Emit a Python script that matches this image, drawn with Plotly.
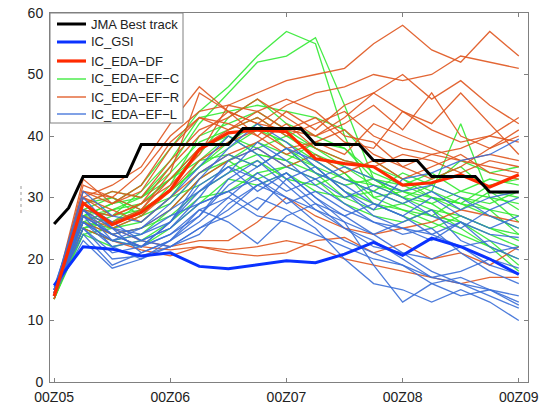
import plotly.graph_objects as go

# ---------------- data ----------------
hours = [0, 6, 12, 18, 24, 30, 36, 42, 48, 54, 60, 66, 72, 78, 84, 90, 96]

jma_hours = [0, 3, 6, 9, 12, 15, 18, 21, 24, 27, 30, 33, 36, 39, 42, 45, 48, 51,
             54, 57, 60, 63, 66, 69, 72, 75, 78, 81, 84, 87, 90, 93, 96]
jma_best = [25.7, 28.3, 33.4, 33.4, 33.4, 33.4, 38.6, 38.6, 38.6, 38.6, 38.6, 38.6, 38.6,
            41.2, 41.2, 41.2, 41.2, 41.2, 38.6, 38.6, 38.6, 38.6, 36.0, 36.0, 36.0, 36.0,
            33.4, 33.4, 33.4, 33.4, 30.9, 30.9, 30.9]

ic_gsi = [15.7, 22.0, 21.6, 20.5, 21.0, 18.8, 18.4, 19.0, 19.7, 19.4, 20.8, 22.7, 20.6, 23.4, 22.0, 20.0, 17.5]
ic_eda_df = [14.0, 29.1, 25.6, 27.6, 31.2, 37.8, 40.5, 41.0, 40.7, 36.3, 35.5, 35.0, 32.0, 32.4, 33.7, 31.7, 33.7]

ef_c = [
    [14.0, 27, 29, 32, 38, 44, 48, 53, 57, 55, 40, 30, 28, 27, 26, 24, 22],
    [14.0, 26, 28, 30, 35, 42, 47, 52, 53, 56, 45, 33, 30, 28, 27, 25, 23],
    [13.5, 25, 27, 31, 36, 43, 44, 45, 44, 43, 41, 36, 33, 30, 29, 28, 27],
    [14.0, 28, 30, 27, 32, 40, 42, 44, 41, 38, 35, 33, 32, 34, 31, 30, 29],
    [13.5, 24, 25, 26, 30, 36, 40, 38, 40, 37, 34, 30, 31, 33, 35, 31, 28],
    [14.5, 29, 30, 28, 31, 35, 38, 41, 39, 36, 33, 32, 30, 29, 31, 33, 32],
    [14.0, 25, 23, 24, 28, 33, 36, 39, 37, 35, 31, 29, 28, 26, 24, 22, 20],
    [13.5, 27, 26, 29, 33, 36, 37, 35, 38, 34, 30, 31, 34, 32, 36, 34, 35],
    [14.0, 26, 24, 25, 27, 31, 34, 36, 33, 32, 34, 29, 27, 25, 27, 25, 24],
    [14.0, 28, 27, 28, 30, 32, 35, 37, 36, 39, 38, 33, 30, 32, 30, 29, 31],
    [13.5, 25, 23, 22, 25, 29, 33, 32, 34, 31, 30, 28, 29, 31, 42, 30, 26],
    [14.0, 24, 22, 23, 26, 30, 31, 34, 35, 33, 29, 27, 26, 28, 25, 22, 18],
    [14.0, 27, 29, 30, 34, 39, 41, 43, 40, 38, 36, 35, 33, 31, 29, 27, 25],
    [13.5, 26, 25, 27, 29, 34, 36, 33, 35, 37, 35, 32, 31, 30, 28, 31, 30],
    [14.0, 29, 31, 30, 33, 37, 43, 46, 42, 40, 38, 34, 32, 30, 29, 32, 33],
    [14.0, 27, 28, 29, 33, 38, 40, 37, 36, 34, 32, 33, 31, 29, 26, 23, 19],
    [13.5, 25, 26, 28, 31, 35, 39, 42, 38, 35, 33, 31, 29, 27, 30, 28, 24],
]

ef_r = [
    [14.0, 31, 30, 34, 40, 44, 45, 47, 49, 50, 51, 55, 58, 54, 52, 57, 53],
    [14.5, 30, 32, 35, 42, 48, 44, 42, 45, 47, 48, 50, 49, 50, 53, 52, 51],
    [14.0, 33, 29, 31, 38, 43, 42, 40, 44, 41, 45, 47, 50, 46, 49, 45, 42],
    [13.5, 29, 31, 30, 36, 41, 43, 46, 43, 40, 42, 45, 41, 47, 40, 38, 41],
    [14.0, 28, 27, 29, 35, 40, 44, 42, 41, 43, 39, 38, 44, 42, 47, 42, 37],
    [14.0, 32, 30, 28, 33, 38, 41, 43, 40, 42, 44, 40, 38, 37, 38, 40, 39],
    [14.5, 27, 25, 27, 31, 36, 39, 41, 38, 39, 37, 42, 40, 38, 36, 37, 36],
    [13.5, 30, 28, 26, 30, 34, 37, 39, 42, 38, 36, 35, 37, 36, 34, 36, 35],
    [14.0, 29, 26, 28, 34, 47, 44, 40, 37, 39, 41, 37, 35, 33, 35, 38, 40],
    [14.0, 26, 24, 25, 28, 33, 36, 38, 35, 37, 34, 36, 33, 35, 37, 34, 33],
    [14.0, 28, 25, 23, 22, 23, 23, 26, 30, 27, 25, 24, 25, 26, 28, 27, 26],
    [13.5, 27, 24, 22, 21.5, 22, 21.5, 22, 23, 22, 20, 19, 18, 17, 16, 17, 17],
    [14.0, 25, 23, 21.5, 20.5, 22, 21, 20.5, 21, 23, 23.5, 21, 22.5, 20, 21, 19, 22],
    [14.5, 31, 29, 32, 39, 43, 41, 44, 46, 44, 40, 39, 35, 37, 36, 35, 34],
    [14.0, 30, 27, 29, 32, 37, 45, 44, 41, 40, 43, 47, 44, 41, 39, 40, 43],
]

ef_l = [
    [15.0, 28, 24, 22, 26, 33, 38, 42, 39, 35, 31, 28, 33, 34, 36, 37, 39.5],
    [14.5, 27, 22, 23, 25, 30, 36, 38, 35, 33, 30, 32, 30, 27, 25, 28, 30],
    [15.0, 30, 25, 21, 23, 27, 32, 35, 38, 34, 32, 29, 27, 30, 27, 25, 27],
    [14.0, 26, 23, 24, 27, 29, 31, 28, 33, 35, 31, 27, 25, 23, 26, 24, 23.5],
    [15.5, 29, 26, 23, 22, 25, 28, 32, 30, 28, 26, 24, 26, 28, 23, 21, 22],
    [14.5, 25, 21, 22, 24, 28, 26, 22.5, 27, 29, 27, 24, 21, 20, 22, 23, 21.5],
    [15.0, 24, 19, 21, 23, 26, 30, 27, 26, 24, 22, 20, 19, 17, 18, 20, 18.5],
    [14.0, 27, 24, 22, 24, 27, 33, 36, 32, 28, 25, 22, 21, 18, 16, 15, 14],
    [15.0, 28, 23, 25, 28, 31, 35, 33, 30, 26, 23, 21, 19, 16, 17, 15, 13],
    [14.5, 26, 22, 20, 22, 24, 29, 32, 34, 30, 26, 19, 13, 16, 14, 15, 12.5],
    [15.0, 31, 27, 26, 30, 35, 40, 37, 33, 29, 25, 23, 20, 17, 16, 14, 12],
    [14.0, 25, 20, 20.5, 22, 25, 27, 30, 28, 25, 20, 16, 15, 13, 15, 13, 10],
    [15.0, 29, 25, 24, 26, 31, 34, 39, 36, 32, 29, 26, 25, 24, 22, 19, 17.5],
    [14.5, 23, 18.5, 20, 23, 28, 30, 34, 31, 33, 35, 33, 31, 32, 30, 27, 25],
    [15.0, 27, 24, 25, 29, 34, 37, 35, 38, 36, 33, 31, 29, 31, 28, 30, 31],
    [14.5, 28, 25, 23, 25, 29, 31, 33, 29, 31, 28, 26, 24, 25, 21, 18, 16],
    [15.0, 26, 23, 22, 26, 32, 35, 31, 34, 30, 27, 29, 27, 24, 26, 22, 20],
]

tick_hours = [0, 24, 48, 72, 96]
tick_labels = ["00Z05", "00Z06", "00Z07", "00Z08", "00Z09"]
y_ticks = [0, 10, 20, 30, 40, 50, 60]

legend_names = ["JMA Best track", "IC_GSI", "IC_EDA\u2212DF",
                "IC_EDA\u2212EF\u2212C", "IC_EDA\u2212EF\u2212R", "IC_EDA\u2212EF\u2212L"]

# ---------------- styles ----------------
C_GREEN = "#33ea33"
C_RED = "#e0561f"
C_BLUE = "#3b6fd8"
C_GSI = "#0a32ff"
C_DF = "#ff2a00"
FONT = "Liberation Sans, Arial, sans-serif"

legend_colors = ["black", C_GSI, C_DF, C_GREEN, C_RED, C_BLUE]
legend_widths = [3, 3, 3.2, 1.3, 1.3, 1.3]

W, H = 545, 405
ML, MR, MT, MB = 50, 17, 13, 23
PW, PH = W - ML - MR, H - MT - MB

def px_x(px):
    return (px - ML) / PW

def px_y(py):
    return (H - MB - py) / PH

fig = go.Figure()

def add_group(members, color):
    for ys in members:
        fig.add_trace(go.Scatter(
            x=hours, y=ys, mode="lines", showlegend=False, hoverinfo="skip",
            line=dict(color=color, width=1.3), opacity=0.9,
        ))

add_group(ef_c, C_GREEN)
add_group(ef_r, C_RED)
add_group(ef_l, C_BLUE)

fig.add_trace(go.Scatter(x=hours, y=ic_gsi, mode="lines", showlegend=False,
                         line=dict(color=C_GSI, width=3)))
fig.add_trace(go.Scatter(x=hours, y=ic_eda_df, mode="lines", showlegend=False,
                         line=dict(color=C_DF, width=3.2)))
fig.add_trace(go.Scatter(x=jma_hours, y=jma_best, mode="lines", showlegend=False,
                         line=dict(color="black", width=3)))

# ---- legend box (drawn manually to match the compact MATLAB legend) ----
shapes = [dict(type="rect", xref="paper", yref="paper",
               x0=px_x(50), x1=px_x(183), y0=px_y(123), y1=px_y(13),
               fillcolor="white", line=dict(color="#808080", width=1), layer="above"),
          # faint clipped remnant of the y-axis label at the far left
          dict(type="line", xref="paper", yref="paper",
               x0=px_x(21), x1=px_x(21), y0=px_y(213), y1=px_y(186),
               line=dict(color="#999", width=1, dash="dot"), layer="above")]
annotations = []
row_y = [24, 42, 61, 79, 97, 114]
for name, col, lw, ry in zip(legend_names, legend_colors, legend_widths, row_y):
    shapes.append(dict(type="line", xref="paper", yref="paper",
                       x0=px_x(57), x1=px_x(86), y0=px_y(ry), y1=px_y(ry),
                       line=dict(color=col, width=lw), layer="above"))
    annotations.append(dict(xref="paper", yref="paper", x=px_x(89), y=px_y(ry),
                            xanchor="left", yanchor="middle", showarrow=False,
                            text=name, font=dict(family=FONT, size=13, color="#222")))

axis_common = dict(
    showgrid=False, zeroline=False, showline=True, linecolor="#808080", linewidth=1,
    mirror="ticks", ticks="inside", ticklen=4, tickcolor="#808080", automargin=False,
)

fig.update_layout(
    width=W, height=H,
    margin=dict(l=ML, r=MR, t=MT, b=MB),
    paper_bgcolor="white", plot_bgcolor="white",
    showlegend=False,
    shapes=shapes, annotations=annotations,
    xaxis=dict(range=[-0.85, 97.9], tickvals=tick_hours, ticktext=tick_labels,
               ticklabelstandoff=2,
               tickfont=dict(family=FONT, size=14, color="#222"), **axis_common),
    yaxis=dict(range=[0, 60], tickvals=y_ticks, ticklabelstandoff=3,
               tickfont=dict(family=FONT, size=14, color="#222"), **axis_common),
)

fig.write_html("out.html")
